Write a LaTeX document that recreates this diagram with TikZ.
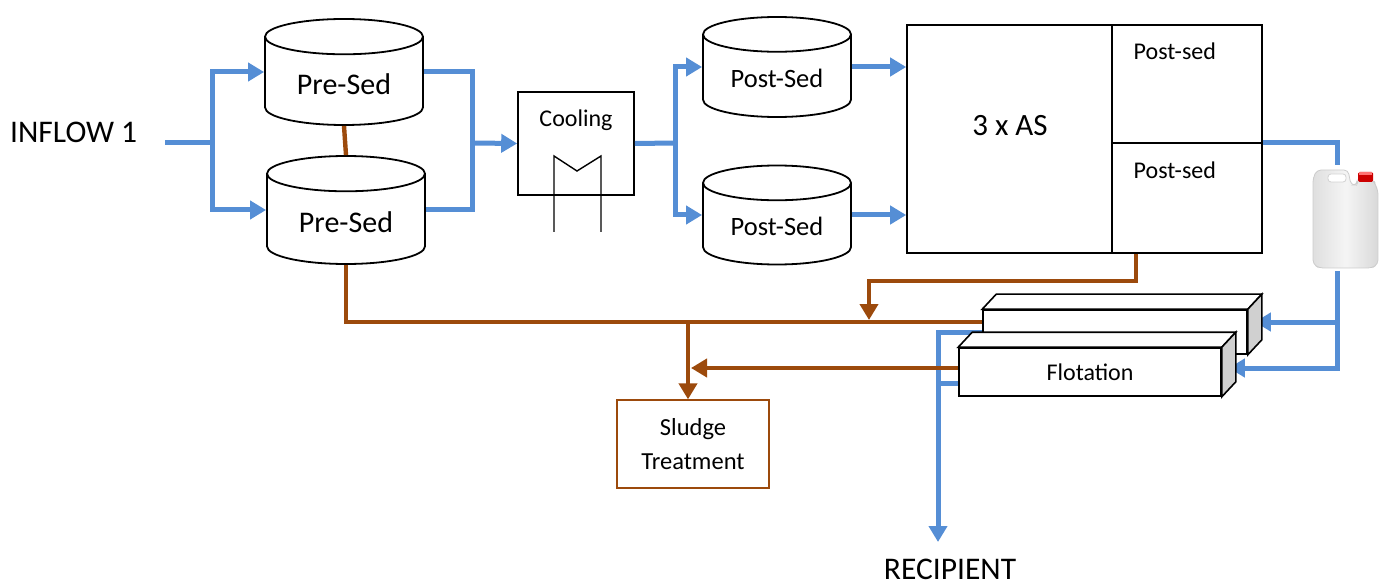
\documentclass[tikz,border=0pt]{standalone}
\usepackage{fontspec}
\setmainfont{Carlito}
\usetikzlibrary{arrows.meta,shapes.geometric,positioning,calc}

\definecolor{water}{RGB}{85,142,213}
\definecolor{sludge}{RGB}{156,74,12}
\definecolor{sideface}{RGB}{208,208,208}

\tikzset{
  tank/.style={draw, line width=1.8pt, cylinder, shape border rotate=90, aspect=0.35,
    anchor=shape center, fill=white, font=\fontsize{30}{36}\selectfont},
  posttank/.style={tank, font=\fontsize{26.5}{32}\selectfont},
  box/.style={draw, line width=1.6pt, fill=white, inner sep=0pt},
  flow/.style={water, line width=5pt},
  sl/.style={sludge, line width=4.4pt},
  tip/.style={-{Triangle[length=16pt,width=18pt]}},
}

\begin{document}
\begin{tikzpicture}[x=1pt, y=-1pt, line join=miter]
\useasboundingbox (0,0) rectangle (1389,585);

% sedimentation tanks
\node[anchor=base west, inner sep=0pt, font=\fontsize{31.5}{38}\selectfont] (inflow) at (10,143) {INFLOW 1};
\node[tank, minimum width=158pt, minimum height=106pt] (pre1) at (344,72) {Pre-Sed};
\node[tank, minimum width=158pt, minimum height=108pt] (pre2) at (346,210) {Pre-Sed};
\node[posttank, minimum width=148pt, minimum height=100pt] (post1) at (777,67) {Post-Sed};
\node[posttank, minimum width=148pt, minimum height=99pt] (post2) at (777,215) {Post-Sed};

% cooling
\node[box, minimum width=116pt, minimum height=103pt] (cool) at (576,143.5) {};
\node[anchor=north, font=\fontsize{24}{29}\selectfont] at ($(cool.north)+(0,15)$) {Cooling};
\draw[line width=1.4pt] (554,232) -- (554,156) -- (577,171) -- (601,156) -- (601,232);

% activated sludge
\node[box, minimum width=205pt, minimum height=228pt] (as) at (1009.5,139) {};
\node[font=\fontsize{31}{37}\selectfont] at (1010,126) {3 x AS};
\node[box, minimum width=150pt, minimum height=118pt,
  label={[anchor=north west, xshift=19pt, yshift=-15pt, font=\fontsize{24}{29}\selectfont]north west:Post-sed}] (ps1) at (1187,84) {};
\node[box, minimum width=150pt, minimum height=110pt,
  label={[anchor=north west, xshift=19pt, yshift=-16pt, font=\fontsize{24}{29}\selectfont]north west:Post-sed}] (ps2) at (1187,198) {};

% sludge treatment
\node[draw=sludge, line width=1.3pt, minimum width=152pt, minimum height=88pt, align=center,
  font=\fontsize{24.5}{34}\selectfont] (sludgetr) at (693,444) {Sludge\\Treatment};

% jerrycan
\node[minimum width=66pt, minimum height=106pt] (can) at (1345,218) {};
\begin{scope}[shift={(can.center)}]
  \draw[gray!40, line width=0.8pt, left color=gray!25, right color=gray!30, middle color=gray!8, rounded corners=4pt]
    (-32,46) -- (-32,-40) -- (-28,-48) -- (3,-48) -- (6,-33) -- (12,-33) -- (12,-38)
    -- (29,-38) -- (30,-33) -- (33,-28) -- (33,46) -- (27,50) -- (-26,50) -- cycle;
  \draw[gray!35, line width=0.8pt, fill=white, rounded corners=3pt] (-17,-44) rectangle (1,-36);
  \fill[red!80!black, rounded corners=1.5pt] (13,-46) rectangle (28,-36);
  \fill[red!55] (14,-46) rectangle (27,-43);
\end{scope}

% water lines
\coordinate (in) at (165,143);
\coordinate (split1) at (212,143);
\coordinate (merge1) at (472,143);
\coordinate (split2) at (675,143);
\coordinate (out) at (938,542);
\draw[flow] (in) -- (split1);
\draw[flow, tip] (split1) |- (pre1.west |- pre1.shape center);
\draw[flow, tip] (split1) |- (pre2.west |- pre2.shape center);
\draw[flow] (pre1.east |- pre1.shape center) -| (merge1) |- (pre2.east |- pre2.shape center);
\draw[flow, tip] (merge1) -- (cool.west);
\draw[flow] (cool.east) -- (split2);
\draw[flow, tip] (split2) |- (post1.west |- post1.shape center);
\draw[flow, tip] (split2) |- (post2.west |- post2.shape center);
\draw[flow, tip] (post1.east |- post1.shape center) -- (as.west |- post1.shape center);
\draw[flow, tip] (post2.east |- post2.shape center) -- (as.west |- post2.shape center);
\draw[flow] (ps2.north east) -| ($(can.north)+(-8,0)$);

% flotation units
\node[box, minimum width=264pt, minimum height=44pt] (float1) at (1115,332) {};
\node[box, minimum width=262pt, minimum height=48pt] (float2) at (1090,372) {};
\draw[flow, tip] (float1.west) -| (out);
\draw[flow] ($(float2.west)+(0,11)$) -- ($(float2.west)+(-21,11)$);
\draw[flow, tip] ($(can.south)+(-8,0)$) |- ($(float1.east)+(7,-10)$);
\draw[flow, tip] ($(can.south)+(-8,0)$) |- ($(float2.east)+(7,-4)$);
\foreach \f/\w/\h in {float1/264/44,float2/262/48} {
  \draw[line width=1.6pt, fill=white] (\f.north west) -- ++(14,-15) -- ($(\f.north east)+(14,-15)$) -- (\f.north east) -- cycle;
  \draw[line width=1.6pt, fill=sideface] (\f.north east) -- ++(14,-15) -- ($(\f.south east)+(14,-15)$) -- (\f.south east) -- cycle;
  \node[box, minimum width=\w pt, minimum height=\h pt] at (\f.center) {};
}
\node[font=\fontsize{24}{29}\selectfont] at (float2.center) {Flotation};
\node[font=\fontsize{31.5}{38}\selectfont, anchor=base, inner sep=0pt] (recipient) at (950,579) {RECIPIENT};

% sludge lines
\coordinate (sj) at (688,322);
\draw[sl] (pre1.south) -- (pre2.north);
\draw[sl] (pre2.south) |- ($(float1.west)+(0,-10)$);
\draw[sl, tip] (sj) -- (sj |- sludgetr.north);
\draw[sl, tip] ($(ps2.south west)+(25,0)$) -- ++(0,27) -| (869,320);
\draw[sl, tip] ($(float2.west)+(0,-4)$) -- (691,368);
\end{tikzpicture}
\end{document}
